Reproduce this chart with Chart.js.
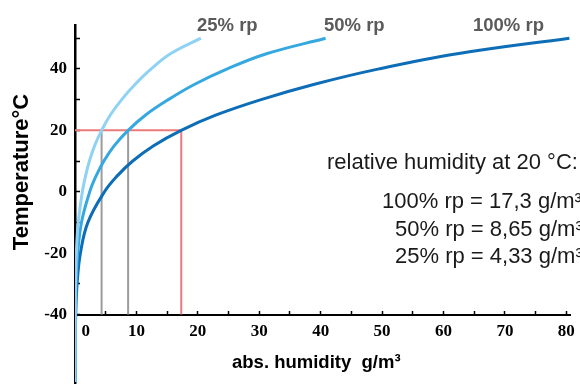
<!DOCTYPE html>
<html>
<head>
<meta charset="utf-8">
<title>abs. humidity vs temperature</title>
<script src="https://cdn.jsdelivr.net/npm/chart.js@4.4.1/dist/chart.umd.min.js"></script>
<style>
  html, body { margin: 0; padding: 0; background: #fff; }
  #wrap { width: 580px; height: 387px; position: relative; }
</style>
</head>
<body>
<div id="wrap"><canvas id="chart"></canvas></div>
<script>
'use strict';

// ─────────────────────────────────────────────
// DATA
// ─────────────────────────────────────────────

const tempC = [-62, -50, -40, -30, -20, -10, 0, 5, 10, 15, 20, 25, 30, 35, 40, 45, 50];
const rh100 = [0.02, 0.05, 0.12, 0.34, 0.88, 2.1, 4.8, 6.8, 9.4, 12.8, 17.3, 23.0, 30.3, 39.0, 49.5, 62.5, 80.5];
const rh50  = [0.01, 0.03, 0.06, 0.17, 0.44, 1.05, 2.4, 3.4, 4.7, 6.4, 8.65, 11.5, 15.2, 19.5, 24.8, 31.3, 40.8];
const rh25  = [0.01, 0.02, 0.03, 0.09, 0.22, 0.53, 1.2, 1.7, 2.35, 3.2, 4.33, 5.75, 7.6, 9.8, 12.4, 15.6, 20.5];

const refTemp   = 20;
const refFloor  = -40;
const refHumid  = [17.3, 8.65, 4.33];   // 100%, 50%, 25% at 20 °C

const xTickValues = [0, 5, 10, 15, 20, 25, 30, 35, 40, 45, 50, 55, 60, 65, 70, 75, 80];
const yTickValues = [-40, -30, -20, -10, 0, 10, 20, 30, 40, 50];

const curveLabels = ['25% rp', '50% rp', '100% rp'];
const infoLines = [
  'relative humidity at 20 °C:',
  '100% rp = 17,3 g/m³',
  '50% rp = 8,65 g/m³',
  '25% rp = 4,33 g/m³',
];

// ─────────────────────────────────────────────
// HELPERS
// ─────────────────────────────────────────────

const pts = (xs) => xs.map((x, i) => ({ x, y: tempC[i] }));

const AXIS_FONT = { family: '"Liberation Serif", "Times New Roman", serif', size: 17, weight: 'bold' };

// text overlay: curve names, info block and axis titles
const textPlugin = {
  id: 'texts',
  afterDraw(chart) {
    const ctx = chart.ctx;
    ctx.save();
    ctx.textBaseline = 'alphabetic';
    ctx.textAlign = 'left';

    ctx.fillStyle = '#5b5b5b';
    ctx.font = 'bold 18.5px "Liberation Sans", Arial, sans-serif';
    ctx.fillText(curveLabels[0], 197, 31);
    ctx.fillText(curveLabels[1], 324, 31);
    ctx.fillText(curveLabels[2], 473, 31);

    ctx.fillStyle = '#1a1a1a';
    ctx.font = '22px "Liberation Sans", Arial, sans-serif';
    ctx.fillText(infoLines[0], 327, 169);
    ctx.fillText(infoLines[1], 382, 208);
    ctx.fillText(infoLines[2], 395, 236);
    ctx.fillText(infoLines[3], 395, 263);

    ctx.fillStyle = '#000';
    ctx.font = 'bold 18.5px "Liberation Sans", Arial, sans-serif';
    ctx.fillText('abs. humidity  g/m³', 232, 368);

    ctx.translate(28, 172);
    ctx.rotate(-Math.PI / 2);
    ctx.textAlign = 'center';
    ctx.font = 'bold 22px "Liberation Sans", Arial, sans-serif';
    ctx.fillText('Temperature°C', 0, 0);
    ctx.restore();
  }
};

// ─────────────────────────────────────────────
// CHART
// ─────────────────────────────────────────────

const curve = (data, color) => ({
  data: pts(data),
  borderColor: color,
  borderWidth: 3,
  pointRadius: 0,
  tension: 0.4,
  showLine: true,
  order: 0,
});

const guide = (data, color) => ({
  data,
  borderColor: color,
  borderWidth: 2,
  pointRadius: 0,
  tension: 0,
  showLine: true,
  order: 1,
});

new Chart(document.getElementById('chart'), {
  type: 'scatter',
  data: {
    datasets: [
      curve(rh25,  '#8fd2f3'),
      curve(rh50,  '#35a8e0'),
      curve(rh100, '#0d6db6'),
      guide([{ x: 0, y: refTemp }, { x: refHumid[0], y: refTemp }, { x: refHumid[0], y: refFloor }], '#ea7b7b'),
      guide([{ x: refHumid[1], y: refTemp }, { x: refHumid[1], y: refFloor }], '#9c9c9c'),
      guide([{ x: refHumid[2], y: refTemp }, { x: refHumid[2], y: refFloor }], '#9c9c9c'),
    ]
  },
  options: {
    responsive: true,
    maintainAspectRatio: false,
    animation: false,
    layout: { padding: { top: 25, bottom: 4, left: 0, right: 10 } },
    plugins: { legend: { display: false }, tooltip: { enabled: false } },
    scales: {
      x: {
        type: 'linear',
        position: { y: refFloor },
        min: 0,
        max: 80.6,
        afterBuildTicks: s => { s.ticks = xTickValues.map(v => ({ value: v })); },
        afterFit: s => { s.height = 0; s.paddingLeft = 0; s.paddingRight = 0; },
        grid: { drawOnChartArea: false, tickLength: -5, tickWidth: 1.5, tickColor: '#000' },
        border: { color: '#000', width: 2 },
        ticks: {
          autoSkip: false,
          maxRotation: 0,
          padding: 12,
          color: '#000',
          font: AXIS_FONT,
          callback: v => (v % 10 === 0 ? (v === 0 ? '     0' : String(v)) : ''),
        },
      },
      y: {
        type: 'linear',
        position: 'left',
        min: -62.3,
        max: 54.3,
        afterBuildTicks: s => { s.ticks = yTickValues.map(v => ({ value: v })); },
        afterFit: s => { s.width = 75; s.paddingTop = 0; s.paddingBottom = 0; },
        grid: { drawOnChartArea: false, tickLength: -5, tickWidth: 1.5, tickColor: '#000' },
        border: { color: '#000', width: 2.5 },
        ticks: {
          autoSkip: false,
          padding: 13,
          color: '#000',
          font: AXIS_FONT,
          callback: v => (v % 20 === 0 ? String(v) : ''),
        },
      },
    },
  },
  plugins: [textPlugin],
});
</script>
</body>
</html>
